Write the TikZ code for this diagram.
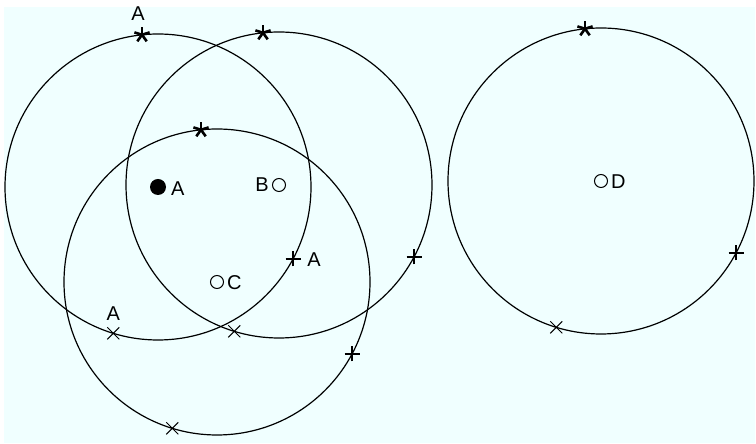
\documentclass[tikz,border=0pt]{standalone}
\usepackage{fontspec}
\setmainfont{Liberation Sans}
\usetikzlibrary{calc}
\definecolor{bgazure}{HTML}{F0FFFF}
\tikzset{
  ring/.style={draw=black, line width=1.2pt},
  ctrfill/.style={circle, fill=black, minimum size=16pt, inner sep=0pt},
  ctropen/.style={circle, draw=black, line width=1pt, minimum size=13pt, inner sep=0pt},
  lbl/.style={inner sep=0pt, font=\fontsize{20}{20}\selectfont},
  starmark/.pic={\foreach \a in {90,18,162,-54,-126} \draw[line width=2.6pt] (0,0) -- (\a:8pt);},
  plusmark/.pic={\draw[line width=2.3pt] (-7.5pt,0) -- (7.5pt,0) (0,-7.5pt) -- (0,7.5pt);},
  xmark/.pic={\draw[line width=1pt] (-6pt,-6pt) -- (6pt,6pt) (-6pt,6pt) -- (6pt,-6pt);}
}
\begin{document}
\begin{tikzpicture}[x=1pt,y=1pt]
\useasboundingbox (0,0) rectangle (756,444);
\fill[white] (0,0) rectangle (756,444);
\fill[bgazure] (4,1) rectangle (755,437);
% centres
\coordinate (cA) at (158,257);
\coordinate (cB) at (279,259);
\coordinate (cC) at (217,162);
\coordinate (cD) at (601,263);
% circles
\foreach \c in {cA,cB,cC,cD} \draw[ring] (\c) circle[radius=153];
% centre markers
\node[ctrfill] (mA) at (cA) {};
\node[ctropen] (mB) at (cB) {};
\node[ctropen] (mC) at (cC) {};
\node[ctropen] (mD) at (cD) {};
\node[lbl, anchor=west] (tA) at ($(mA)+(13,-2)$) {A};
\node[lbl, anchor=east] (tB) at ($(mB)+(-10,0)$) {B};
\node[lbl, anchor=west] (tC) at ($(mC)+(10,-1)$) {C};
\node[lbl, anchor=west] (tD) at ($(mD)+(10,-1)$) {D};
% markers on circles
\foreach \c in {cA,cB,cC,cD} {
  \coordinate (\c-s) at ($(\c)+(96:153)$);
  \coordinate (\c-p) at ($(\c)+(-28:153)$);
  \coordinate (\c-x) at ($(\c)+(-107:153)$);
  \pic at (\c-s) {starmark};
  \pic at (\c-p) {plusmark};
  \pic at (\c-x) {xmark};
}
% labels on circle A markers
\node[lbl] (la1) at ($(cA-s)+(-4,21)$) {A};
\node[lbl, anchor=west] (la2) at ($(cA-p)+(14,-1)$) {A};
\node[lbl] (la3) at ($(cA-x)+(0,20)$) {A};
\end{tikzpicture}
\end{document}
